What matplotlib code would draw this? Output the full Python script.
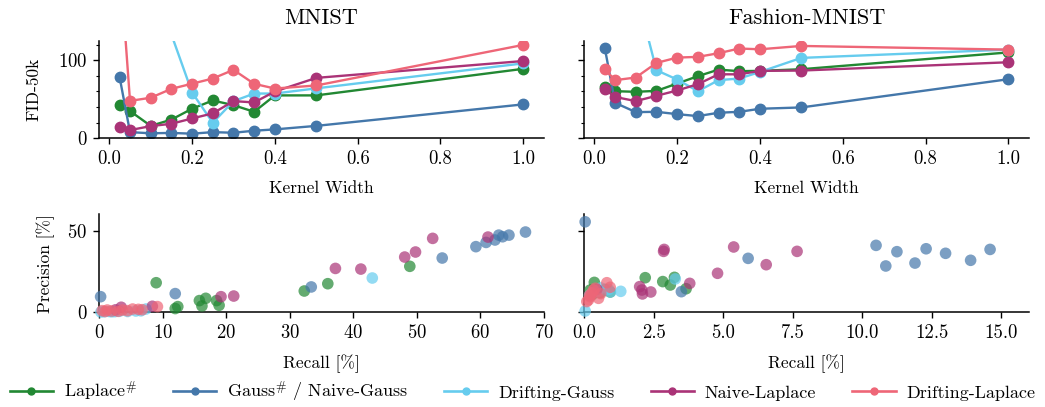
import matplotlib
matplotlib.use("Agg")
import matplotlib.pyplot as plt
from matplotlib.ticker import MultipleLocator, FormatStrFormatter
from matplotlib.lines import Line2D

plt.rcParams['font.family'] = ['cmr10', 'DejaVu Serif']
plt.rcParams['mathtext.fontset'] = 'cm'
plt.rcParams['axes.formatter.use_mathtext'] = True
plt.rcParams['axes.unicode_minus'] = False

# ---------------- data ----------------
kernel_widths = [0.025, 0.05, 0.1, 0.15, 0.2, 0.25, 0.3, 0.35, 0.4, 0.5, 1.0]

methods = ["Laplace$^{\\#}$", "Gauss$^{\\#}$ / Naive-Gauss", "Drifting-Gauss",
           "Naive-Laplace", "Drifting-Laplace"]
colors = ["#228833", "#4477AA", "#66CCEE", "#AA3377", "#EE6677"]

# FID-50k vs kernel width, MNIST
fid_mnist_laplace = [43, 35, 16, 24, 38, 48.5, 42.5, 34, 55, 55, 89]
fid_mnist_gauss = [78, 8, 6.5, 7, 6, 8, 7.2, 9.8, 11.5, 16, 43.5]
fid_mnist_drift_gauss = [300, 260, 200, 133, 58.7, 20, 47.6, 57.4, 57.4, 64, 96]
fid_mnist_naive_laplace = [14.5, 10.6, 15.7, 18.7, 25.5, 32, 47.7, 46, 60, 77.4, 99]
fid_mnist_drift_laplace = [230, 48, 52, 63.4, 70, 76.6, 87.7, 69.8, 63.8, 67.7, 119.6]

# FID-50k vs kernel width, Fashion-MNIST
fid_fashion_laplace = [66, 60.4, 59.6, 60.8, 70.2, 79.6, 88, 86, 86.4, 88.5, 110]
fid_fashion_gauss = [116, 45.5, 33.6, 34, 31, 28.5, 32.8, 34, 37.9, 39.6, 75.7]
fid_fashion_drift_gauss = [260, 230, 190, 87.2, 75.3, 60.4, 74.5, 76.6, 85, 103, 113.6]
fid_fashion_naive_laplace = [63, 53, 47.7, 54.5, 61.3, 69.4, 82, 82, 86.4, 86.8, 97.4]
fid_fashion_drift_laplace = [88.5, 74.5, 77.9, 96.6, 103.4, 104.3, 109, 115, 114, 118.3, 113.6]

# Precision / Recall, MNIST  (recall [%], precision [%])
pr_mnist_laplace_r = [9.0, 12.0, 12.4, 15.8, 16.2, 16.8, 18.5, 18.9, 32.3, 36.0, 48.9]
pr_mnist_laplace_p = [18.2, 2.3, 3.5, 7.2, 3.9, 8.6, 7.2, 4.3, 13.1, 17.6, 28.3]
pr_mnist_gauss_r = [0.26, 12.0, 33.4, 54.0, 59.3, 60.9, 62.3, 62.9, 63.5, 64.5, 67.1]
pr_mnist_gauss_p = [9.6, 11.5, 15.6, 33.4, 40.4, 43.0, 44.5, 47.5, 46.5, 47.5, 49.4]
pr_mnist_drift_gauss_r = [0.8, 1.6, 2.5, 3.2, 4.5, 5.8, 6.6, 7.4, 0.3, 2.0, 43.0]
pr_mnist_drift_gauss_p = [0.3, 0.5, 0.4, 0.6, 0.5, 0.8, 0.9, 2.0, 0.2, 0.3, 21.1]
pr_mnist_naive_laplace_r = [2.6, 3.5, 8.4, 19.2, 21.2, 37.2, 41.2, 48.1, 49.8, 52.5, 61.2]
pr_mnist_naive_laplace_p = [1.5, 3.1, 3.7, 9.6, 10.0, 27.0, 26.6, 34.0, 37.1, 45.5, 46.3]
pr_mnist_drift_laplace_r = [0.5, 1.3, 2.0, 3.7, 4.5, 5.3, 6.2, 6.8, 9.2, 1.0, 3.0]
pr_mnist_drift_laplace_p = [1.0, 1.4, 0.8, 1.4, 1.0, 2.0, 1.8, 1.6, 3.5, 0.5, 0.6]

# Precision / Recall, Fashion-MNIST
pr_fashion_laplace_r = [0.22, 0.37, 0.58, 0.94, 2.2, 2.83, 3.1, 3.25, 3.67, 0.3, 0.75]
pr_fashion_laplace_p = [13.7, 18.4, 12.1, 12.5, 21.3, 18.9, 16.8, 21.5, 14.5, 11.0, 14.0]
pr_fashion_gauss_r = [0.04, 3.5, 5.9, 10.5, 10.85, 11.25, 11.9, 12.3, 13.0, 13.9, 14.6]
pr_fashion_gauss_p = [55.7, 12.7, 33.2, 41.2, 28.5, 37.3, 30.3, 39.1, 36.3, 32.0, 38.7]
pr_fashion_drift_gauss_r = [0.04, 0.5, 0.7, 0.88, 1.32, 3.28, 0.6, 0.3, 0.45, 0.95, 0.2]
pr_fashion_drift_gauss_p = [0.8, 12.7, 13.7, 14.1, 12.9, 20.5, 15.0, 12.0, 13.0, 12.5, 10.5]
pr_fashion_naive_laplace_r = [0.46, 2.0, 2.08, 2.1, 2.4, 2.86, 2.88, 3.8, 4.8, 5.38, 6.55, 7.66]
pr_fashion_naive_laplace_p = [14.1, 15.8, 13.7, 11.3, 12.5, 37.5, 38.7, 17.8, 24.0, 40.2, 29.3, 37.5]
pr_fashion_drift_laplace_r = [0.1, 0.16, 0.22, 0.28, 0.34, 0.4, 0.52, 0.82, 0.94, 0.2, 0.6]
pr_fashion_drift_laplace_p = [6.6, 7.6, 9.6, 11.7, 13.7, 14.8, 8.6, 18.2, 15.4, 10.5, 11.5]

fid_mnist = [fid_mnist_laplace, fid_mnist_gauss, fid_mnist_drift_gauss,
             fid_mnist_naive_laplace, fid_mnist_drift_laplace]
fid_fashion = [fid_fashion_laplace, fid_fashion_gauss, fid_fashion_drift_gauss,
               fid_fashion_naive_laplace, fid_fashion_drift_laplace]
pr_mnist = [(pr_mnist_laplace_r, pr_mnist_laplace_p), (pr_mnist_gauss_r, pr_mnist_gauss_p),
            (pr_mnist_drift_gauss_r, pr_mnist_drift_gauss_p),
            (pr_mnist_naive_laplace_r, pr_mnist_naive_laplace_p),
            (pr_mnist_drift_laplace_r, pr_mnist_drift_laplace_p)]
pr_fashion = [(pr_fashion_laplace_r, pr_fashion_laplace_p), (pr_fashion_gauss_r, pr_fashion_gauss_p),
              (pr_fashion_drift_gauss_r, pr_fashion_drift_gauss_p),
              (pr_fashion_naive_laplace_r, pr_fashion_naive_laplace_p),
              (pr_fashion_drift_laplace_r, pr_fashion_drift_laplace_p)]

# ---------------- figure ----------------
fig = plt.figure(figsize=(10.45, 4.07), dpi=100)
W = 0.4258
ax_tl = fig.add_axes([0.0947, 0.660, W, 0.240])
ax_tr = fig.add_axes([0.5589, 0.660, W, 0.240], sharey=ax_tl)
ax_bl = fig.add_axes([0.0947, 0.2327, W, 0.2415])
ax_br = fig.add_axes([0.5589, 0.2327, W, 0.2415], sharey=ax_bl)

TICK = 13.5
LAB = 12.5
for ax in (ax_tl, ax_tr, ax_bl, ax_br):
    ax.spines['top'].set_visible(False)
    ax.spines['right'].set_visible(False)
    ax.tick_params(labelsize=TICK, direction='out', length=4.5, width=1.0, pad=4)
    ax.tick_params(which='minor', length=2.5, width=0.8)
    for s in ('left', 'bottom'):
        ax.spines[s].set_linewidth(1.1)

for ax, data, title in ((ax_tl, fid_mnist, "MNIST"), (ax_tr, fid_fashion, "Fashion-MNIST")):
    for vals, c in zip(data, colors):
        ax.plot(kernel_widths, vals, color=c, lw=1.7, marker='o', ms=7.5)
    ax.set_xlim(-0.025, 1.05)
    ax.set_ylim(0, 125)
    ax.set_xticks([0.0, 0.2, 0.4, 0.6, 0.8, 1.0])
    ax.xaxis.set_major_formatter(FormatStrFormatter('%.1f'))
    ax.set_yticks([0, 100])
    ax.yaxis.set_minor_locator(MultipleLocator(20))
    ax.set_xlabel("Kernel Width", fontsize=LAB, labelpad=9)
    ax.set_title(title, fontsize=16, pad=12)
ax_tl.set_ylabel("FID-50k", fontsize=LAB, labelpad=12)
plt.setp(ax_tr.get_yticklabels(), visible=False)

for ax, data in ((ax_bl, pr_mnist), (ax_br, pr_fashion)):
    for (r, p), c in zip(data, colors):
        ax.scatter(r, p, color=c, s=70, alpha=0.7, edgecolors='none', clip_on=False, zorder=3)
    ax.set_ylim(0, 60.5)
    ax.set_yticks([0, 50])
    ax.set_xlabel("Recall [%]", fontsize=LAB, labelpad=9)
ax_bl.set_xlim(0, 70)
ax_bl.set_xticks([0, 10, 20, 30, 40, 50, 60, 70])
ax_br.set_xlim(0, 16)
ax_br.set_xticks([0.0, 2.5, 5.0, 7.5, 10.0, 12.5, 15.0])
ax_br.xaxis.set_major_formatter(FormatStrFormatter('%.1f'))
ax_bl.set_ylabel("Precision [%]", fontsize=LAB, labelpad=9)
plt.setp(ax_br.get_yticklabels(), visible=False)

handles = [Line2D([0], [0], color=c, lw=1.9, marker='o', ms=5) for c in colors]
fig.legend(handles, methods, loc='center', bbox_to_anchor=(0.5, 0.037), ncol=5,
           frameon=False, fontsize=13, handlelength=2.4, columnspacing=2.0,
           handletextpad=0.6)

fig.savefig("out.png", dpi=100)
